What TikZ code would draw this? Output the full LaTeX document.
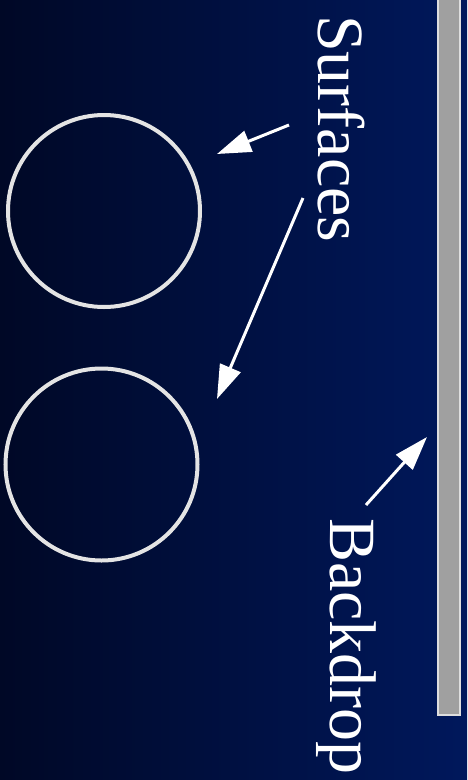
\documentclass[tikz,border=0pt]{standalone}
\usepackage{fontspec}
\setmainfont{Liberation Serif}
\usetikzlibrary{arrows.meta}
\definecolor{bgleft}{RGB}{0,8,38}
\definecolor{bgright}{RGB}{0,24,92}
\definecolor{ringcol}{RGB}{228,228,228}
\definecolor{barfill}{RGB}{160,160,160}
\definecolor{barline}{RGB}{222,222,222}
\begin{document}
\begin{tikzpicture}[x=1pt,y=-1pt,
  ring/.style={circle,draw=ringcol,line width=4pt,minimum size=192pt,inner sep=0pt},
  label/.style={text=white,font=\fontsize{66}{70}\selectfont,rotate=-90,anchor=base west,inner sep=0pt},
  pointer/.style={draw=white,line width=3pt,-{Triangle[length=34pt,width=22pt]}}]
\useasboundingbox (0,0) rectangle (467,780);
\shade[left color=bgleft,right color=bgright] (0,0) rectangle (467,780);
\draw[draw=barline,fill=barfill,line width=2pt] (438,-5) rectangle (460,715);
\node[ring] (c1) at (104,211) {};
\node[ring] (c2) at (101.5,464.5) {};
\node[label] (surf) at (318,15) {Surfaces};
\node[label] (back) at (330,518) {Backdrop};
\coordinate (a1s) at (289,125);
\coordinate (a1e) at (217,154);
\coordinate (a2s) at (303,198);
\coordinate (a2e) at (217,399);
\coordinate (a3s) at (366,505);
\coordinate (a3e) at (427,437);
\draw[pointer] (a1s) -- (a1e);
\draw[pointer] (a2s) -- (a2e);
\draw[pointer] (a3s) -- (a3e);
\end{tikzpicture}
\end{document}
